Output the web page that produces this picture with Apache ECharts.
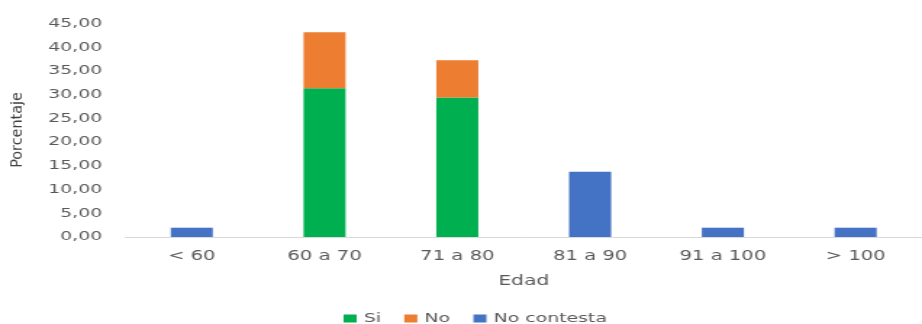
<!DOCTYPE html>
<html>
<head>
<meta charset="utf-8">
<script src="https://cdn.jsdelivr.net/npm/echarts@6/dist/echarts.min.js"></script>
<style>
  html, body { margin: 0; padding: 0; background: #ffffff; overflow: hidden; }
  /* The chart is laid out on a narrower canvas and widened to the page width,
     which gives the broad lettering of the original export. */
  #chart { width: 636px; height: 324px; transform: scaleX(1.4497); transform-origin: 0 0; }
</style>
</head>
<body>
<div id="chart"></div>
<script>
// Age groups and share of respondents (%) per answer
const categories = ['< 60', '60 a 70', '71 a 80', '81 a 90', '91 a 100', '> 100'];
const siValues = [0, 31.37, 29.41, 0, 0, 0];
const noValues = [0, 11.76, 7.84, 0, 0, 0];
const noContestaValues = [1.96, 0, 0, 13.73, 1.96, 1.96];
const seriesNames = ['Si', 'No', 'No contesta'];
const yTicks = { min: 0, max: 45, step: 5 };
const xTitle = 'Edad';
const yTitle = 'Porcentaje';

const STRETCH = 1.4497;
const chart = echarts.init(document.getElementById('chart'), null, { renderer: 'canvas' });

const tickFont = 'DejaVu Sans';
const bar = (name, data, color) => ({
  name,
  type: 'bar',
  stack: 'edad',
  data,
  barWidth: 29,
  itemStyle: { color },
  emphasis: { disabled: true }
});

chart.setOption({
  animation: false,
  grid: { left: 86.5, top: 23.5, width: 556, bottom: 87, containLabel: false },
  legend: {
    data: seriesNames,
    left: 232,
    top: 307,
    itemWidth: 9,
    itemHeight: 8,
    itemGap: 16,
    icon: 'rect',
    textStyle: { fontFamily: tickFont, fontSize: 13, color: '#595959' }
  },
  xAxis: {
    type: 'category',
    data: categories,
    name: xTitle,
    nameLocation: 'middle',
    nameGap: 37,
    nameTextStyle: { fontFamily: tickFont, fontSize: 14, color: '#595959' },
    axisLine: { show: true, lineStyle: { color: '#D9D9D9', width: 1 } },
    axisTick: { show: false },
    axisLabel: { fontFamily: tickFont, fontSize: 13.5, color: '#595959', margin: 12 },
    splitLine: { show: false }
  },
  yAxis: {
    type: 'value',
    min: yTicks.min,
    max: yTicks.max,
    interval: yTicks.step,
    axisLine: { show: false },
    axisTick: { show: false },
    splitLine: { show: false },
    axisLabel: {
      fontFamily: tickFont,
      fontSize: 13,
      color: '#595959',
      margin: 16,
      formatter: v => v.toFixed(2).replace('.', ',')
    }
  },
  graphic: [{
    // the vertical title keeps its natural proportions after the page widening
    type: 'group',
    x: 11.7,
    y: 130,
    scaleX: 1 / STRETCH,
    silent: true,
    children: [{
      type: 'text',
      rotation: Math.PI / 2,
      style: {
        text: yTitle,
        font: '16px "Liberation Sans Narrow", "DejaVu Sans Condensed", sans-serif',
        fill: '#404040',
        align: 'center',
        verticalAlign: 'middle'
      }
    }]
  }],
  series: [
    bar(seriesNames[0], siValues, '#00B050'),
    bar(seriesNames[1], noValues, '#ED7D31'),
    bar(seriesNames[2], noContestaValues, '#4472C4')
  ]
});
</script>
</body>
</html>
